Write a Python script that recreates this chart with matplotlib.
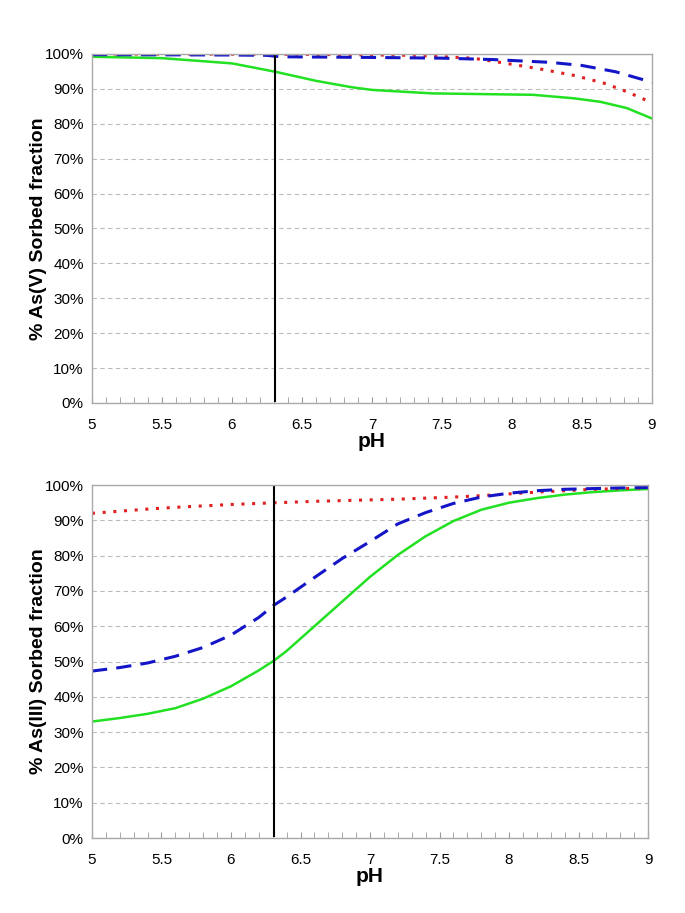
import matplotlib
matplotlib.use("Agg")
import matplotlib.pyplot as plt
from matplotlib.ticker import MultipleLocator, PercentFormatter

plt.rcParams["font.family"] = ["Liberation Sans", "DejaVu Sans"]

# As(V) panel
ph_v_green = [5.0, 5.5, 6.0, 6.31, 6.6, 6.85, 7.0, 7.43, 8.15, 8.44, 8.63, 8.82, 9.0]
green_v = [99.2, 98.8, 97.3, 94.9, 92.3, 90.5, 89.7, 88.7, 88.3, 87.3, 86.3, 84.5, 81.5]
ph_v_blue = [5.0, 6.0, 6.25, 6.35, 7.0, 7.5, 7.86, 8.27, 8.5, 8.74, 9.0]
blue_v = [99.8, 99.7, 99.6, 99.2, 99.0, 98.8, 98.4, 97.6, 96.7, 94.9, 91.9]
ph_v_red = [5.0, 6.5, 7.3, 7.72, 7.96, 8.2, 8.45, 8.66, 8.82, 9.0]
red_v = [100.0, 99.9, 99.6, 98.8, 97.3, 95.7, 93.8, 91.6, 89.2, 86.0]

# As(III) panel
ph_iii = [5.0, 5.2, 5.4, 5.6, 5.8, 6.0, 6.2, 6.31, 6.4, 6.6, 6.8, 7.0, 7.2, 7.4,
          7.6, 7.8, 8.0, 8.2, 8.4, 8.6, 8.8, 9.0]
green_iii = [33.0, 34.0, 35.2, 36.8, 39.5, 43.0, 47.5, 50.3, 53.0, 60.0, 67.0,
             74.0, 80.2, 85.5, 89.8, 93.0, 95.0, 96.3, 97.3, 98.0, 98.5, 98.9]
blue_iii = [47.3, 48.3, 49.6, 51.5, 54.0, 57.5, 62.5, 66.0, 68.3, 73.8, 79.2,
            84.0, 89.0, 92.2, 94.8, 96.6, 97.7, 98.4, 98.8, 99.0, 99.2, 99.3]
red_iii = [92.0, 92.6, 93.2, 93.7, 94.1, 94.5, 94.8, 95.0, 95.1, 95.4, 95.6,
           95.8, 96.0, 96.3, 96.6, 97.0, 97.5, 98.0, 98.4, 98.8, 99.0, 99.2]

ph_marker = 6.31

fig = plt.figure(figsize=(6.85, 9.13), dpi=100)
ax1 = fig.add_axes([0.1343, 0.5586, 0.8175, 0.3823])
ax2 = fig.add_axes([0.1343, 0.0821, 0.8117, 0.3866])


def style(ax, ylabel):
    ax.set_xlim(5, 9)
    ax.set_ylim(0, 100)
    ax.yaxis.set_major_locator(MultipleLocator(10))
    ax.yaxis.set_major_formatter(PercentFormatter(decimals=0))
    ax.xaxis.set_major_locator(MultipleLocator(0.5))
    ax.xaxis.set_minor_locator(MultipleLocator(0.1))
    ax.xaxis.set_major_formatter(plt.FuncFormatter(lambda v, p: f"{v:g}"))
    ax.tick_params(axis="x", which="both", direction="in", length=4,
                   color="#999999", pad=11, labelsize=11)
    ax.tick_params(axis="y", length=0, pad=6, labelsize=11)
    ax.grid(axis="y", linestyle=(0, (4, 3)), color="#bbbbbb", linewidth=0.8)
    ax.set_axisbelow(True)
    for s in ax.spines.values():
        s.set_color("#aaaaaa")
        s.set_linewidth(1)
    ax.set_ylabel(ylabel, fontsize=14, fontweight="bold", labelpad=-2)
    ax.set_xlabel("pH", fontsize=15, fontweight="bold", labelpad=0)


ax1.plot(ph_v_green, green_v, color="#22e022", lw=1.8)
ax1.plot(ph_v_red, red_v, color="#e02020", lw=2.2, linestyle=(0, (1, 2.5)))
ax1.plot(ph_v_blue, blue_v, color="#1515c8", lw=2.2, linestyle=(0, (5, 3)))
ax1.plot([ph_marker, ph_marker], [0.5, 99.5], color="black", lw=1.5)
style(ax1, "% As(V) Sorbed fraction")

ax2.plot(ph_iii, green_iii, color="#22e022", lw=1.8)
ax2.plot(ph_iii, red_iii, color="#e02020", lw=2.2, linestyle=(0, (1, 2.5)))
ax2.plot(ph_iii, blue_iii, color="#1515c8", lw=2.2, linestyle=(0, (5, 3)))
ax2.plot([ph_marker, ph_marker], [0.5, 100], color="black", lw=1.5)
style(ax2, "% As(III) Sorbed fraction")

fig.savefig("out.png", dpi=100)
